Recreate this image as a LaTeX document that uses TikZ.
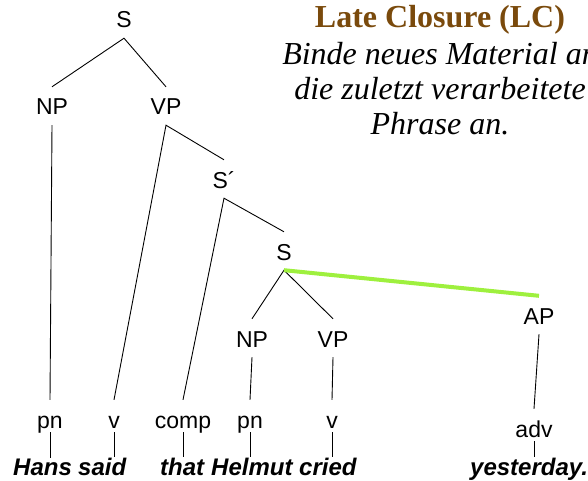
\documentclass[tikz,border=0pt]{standalone}
\usepackage{fontspec}
\setmainfont{Liberation Serif}
\setsansfont{Liberation Sans}
\definecolor{lcbrown}{RGB}{122,74,12}
\definecolor{lcgreen}{RGB}{158,240,62}

\begin{document}
\begin{tikzpicture}[x=1pt,y=-1pt]
\tikzstyle{cat}=[
  font=\sffamily\fontsize{23}{23}\selectfont,
  inner sep=0pt, text height=28pt, text depth=10pt,
  anchor=base ]
\tikzstyle{pret}=[cat, text depth=4pt]
\tikzstyle{word}=[
  font=\sffamily\bfseries\itshape\fontsize{24}{24}\selectfont,
  inner sep=0pt, anchor=base west ]
\tikzstyle{branch}=[line width=0.9pt]
\tikzstyle{attach}=[line width=4pt, lcgreen]
\useasboundingbox (0,0) rectangle (588,481);

\node[font=\bfseries\fontsize{32}{32}\selectfont, text=lcbrown, anchor=base]
  (title) at (440,28) {Late Closure (LC)};
\node[font=\itshape\fontsize{32}{35}\selectfont, align=center, anchor=base]
  (rule) at (440,135) {Binde neues Material an\\die zuletzt verarbeitete\\Phrase an.};

\node[cat] (S) at (124,28) {S};
\node[cat] (NP) at (52,115) {NP};
\node[cat] (VP) at (166,115) {VP};
\node[cat] (Sbar) at (224,188) {S´};
\node[cat] (S2) at (284,260) {S};
\node[cat] (NP2) at (252,347) {NP};
\node[cat] (VP2) at (333,347) {VP};
\node[cat] (AP) at (539,324) {AP};

\node[pret] (pn) at (50,428) {pn};
\node[pret] (v) at (114,428) {v};
\node[pret] (comp) at (183,428) {comp};
\node[pret] (pn2) at (250,428) {pn};
\node[pret] (v2) at (332,428) {v};
\node[pret] (adv) at (534,437) {adv};

\node[word] (Hans) at (13,475) {Hans};
\node[word] (said) at (78,475) {said};
\node[word] (that) at (160,475) {that};
\node[word] (Helmut) at (211,475) {Helmut};
\node[word] (cried) at (299,475) {cried};
\node[word] (yesterday) at (470,475) {yesterday.};

\draw[branch] (NP.north) -- (S.south) -- (VP.north);
\draw[branch] (NP.south) -- (pn.north);
\draw[branch] (v.north) -- (VP.south) -- (Sbar.north);
\draw[branch] (comp.north) -- (Sbar.south) -- (S2.north);
\draw[branch] (NP2.north) -- (S2.south) -- (VP2.north);
\draw[branch] (NP2.south) -- (pn2.north);
\draw[branch] (VP2.south) -- (v2.north);
\draw[branch] (AP.south) -- (adv.north);
\draw[attach] (S2.south) -- (AP.north);

\foreach \c/\w in {pn/Hans, v/said, comp/that, pn2/Helmut, v2/cried, adv/yesterday}
  \draw[branch] (\c.south) -- (\c.south |- \w.north);
\end{tikzpicture}
\end{document}
